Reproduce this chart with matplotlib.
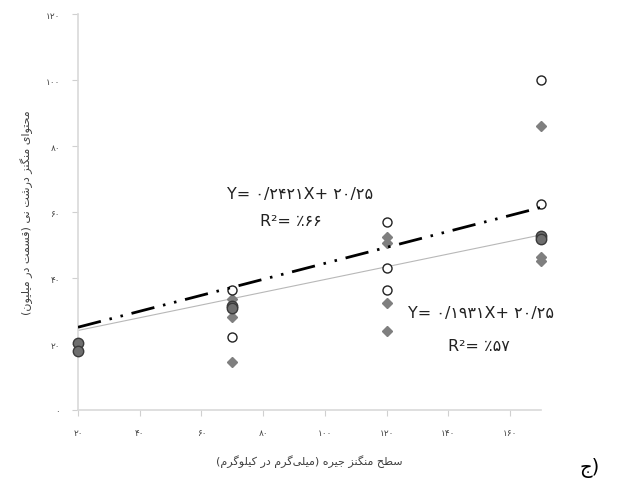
import matplotlib
matplotlib.use('Agg')
import matplotlib.pyplot as plt
import numpy as np

# Persian shaping (matplotlib draws text left-to-right without joining)
FORMS = {
    'ا': ('\uFE8D', '\uFE8E', None, None),
    'ب': ('\uFE8F', '\uFE90', '\uFE91', '\uFE92'),
    'پ': ('\uFB56', '\uFB57', '\uFB58', '\uFB59'),
    'ت': ('\uFE95', '\uFE96', '\uFE97', '\uFE98'),
    'ج': ('\uFE9D', '\uFE9E', '\uFE9F', '\uFEA0'),
    'ح': ('\uFEA1', '\uFEA2', '\uFEA3', '\uFEA4'),
    'د': ('\uFEA9', '\uFEAA', None, None),
    'ر': ('\uFEAD', '\uFEAE', None, None),
    'ز': ('\uFEAF', '\uFEB0', None, None),
    'س': ('\uFEB1', '\uFEB2', '\uFEB3', '\uFEB4'),
    'ش': ('\uFEB5', '\uFEB6', '\uFEB7', '\uFEB8'),
    'ط': ('\uFEC1', '\uFEC2', '\uFEC3', '\uFEC4'),
    'ق': ('\uFED5', '\uFED6', '\uFED7', '\uFED8'),
    'ک': ('\uFB8E', '\uFB8F', '\uFB90', '\uFB91'),
    'گ': ('\uFB92', '\uFB93', '\uFB94', '\uFB95'),
    'ل': ('\uFEDD', '\uFEDE', '\uFEDF', '\uFEE0'),
    'م': ('\uFEE1', '\uFEE2', '\uFEE3', '\uFEE4'),
    'ن': ('\uFEE5', '\uFEE6', '\uFEE7', '\uFEE8'),
    'و': ('\uFEED', '\uFEEE', None, None),
    'ه': ('\uFEE9', '\uFEEA', '\uFEEB', '\uFEEC'),
    'ی': ('\uFBFC', '\uFBFD', '\uFBFE', '\uFBFF'),
}

def dual(c):
    return c in FORMS and FORMS[c][2] is not None

def fa(s):
    out = []
    for i, c in enumerate(s):
        if c not in FORMS:
            if c != '\u200c':
                out.append(c)
            continue
        prev = s[i-1] if i > 0 else ''
        nxt = s[i+1] if i+1 < len(s) else ''
        jp = dual(prev)
        jn = dual(c) and nxt in FORMS
        iso, fin, ini, med = FORMS[c]
        if jp and jn:
            out.append(med)
        elif jp:
            out.append(fin)
        elif jn:
            out.append(ini)
        else:
            out.append(iso)
    vis = ''.join(reversed(out))
    return vis.translate(str.maketrans('()', ')('))

def fa_num(n):
    return str(n).translate(str.maketrans('0123456789', '۰۱۲۳۴۵۶۷۸۹'))

# data
open_x = [70, 70, 70, 120, 120, 120, 170, 170, 170]
open_y = [36.4, 30.8, 22.0, 56.9, 43.2, 36.4, 100.0, 62.4, 52.0]
diam_x = [70, 70, 70, 120, 120, 120, 120, 170, 170, 170]
diam_y = [33.6, 28.2, 14.6, 52.3, 50.5, 32.3, 23.8, 86.0, 46.3, 45.2]
dark_x = [20, 20, 70, 70, 170, 170]
dark_y = [20.3, 17.8, 31.4, 30.8, 52.8, 51.8]

fit_slope = [0.2421, 0.1931]
fit_icpt = [20.25, 20.25]
eq_text = ['Y= ۰/۲۴۲۱X+ ۲۰/۲۵', 'Y= ۰/۱۹۳۱X+ ۲۰/۲۵']
r2_text = ['R²= ٪۶۶', 'R²= ٪۵۷']

xticks = [20, 40, 60, 80, 100, 120, 140, 160]
yticks = [0, 20, 40, 60, 80, 100, 120]

plt.rcParams['font.family'] = ['DejaVu Sans']

fig = plt.figure(figsize=(6.29, 4.89), dpi=100)
ax = fig.add_axes([0.124, 0.1595, 0.736, 0.8095])

xs = np.array([20, 170])
ax.plot(xs, fit_slope[1]*xs + fit_icpt[1], color='#b8b8b8', lw=0.8, zorder=2)
ax.plot(xs, fit_slope[0]*xs + fit_icpt[0], color='black', lw=2.0,
        ls=(0, (8.5, 3.2, 0.9, 3.2, 0.9, 3.2)), zorder=6)

ax.plot(diam_x, diam_y, 'D', ms=5, color='#7f7f7f', mec='#7f7f7f', ls='none', zorder=3, clip_on=False)
ax.plot(open_x, open_y, 'o', ms=6.5, mfc='white', mec='#222222', mew=1.0, ls='none', zorder=4, clip_on=False)
ax.plot(dark_x, dark_y, 'o', ms=7.5, color='#6e6e6e', mec='#3a3a3a', mew=1.0, ls='none', zorder=5, clip_on=False)

ax.set_xlim(20, 170)
ax.set_ylim(0, 120)
ax.set_xticks(xticks)
ax.set_xticklabels([fa_num(v) for v in xticks])
ax.set_yticks(yticks)
ax.set_yticklabels([fa_num(v) for v in yticks])
ax.tick_params(colors='#d0d0d0', labelcolor='#444444', labelsize=6.5, length=4, width=0.8, pad=9)

for s in ['top', 'right']:
    ax.spines[s].set_visible(False)
for s in ['left', 'bottom']:
    ax.spines[s].set_color('#d9d9d9')
    ax.spines[s].set_linewidth(1.2)

ax.set_ylabel(fa('محتوای منگنز درشت نی (قسمت در میلیون)'), fontsize=8, color='#404040')
ax.yaxis.set_label_coords(-0.098, 0.5)
ax.set_xlabel(fa('سطح منگنز جیره (میلی\u200cگرم در کیلوگرم)'), fontsize=8, color='#404040')
ax.xaxis.set_label_coords(0.5, -0.111)

ax.text(91.9, 65.5, eq_text[0], ha='center', va='center', fontsize=11.5, color='#222222')
ax.text(89.0, 57.3, r2_text[0], ha='center', va='center', fontsize=11.5, color='#222222')
ax.text(150.5, 29.7, eq_text[1], ha='center', va='center', fontsize=11.5, color='#222222')
ax.text(150.0, 19.7, r2_text[1], ha='center', va='center', fontsize=11.5, color='#222222')

fig.text(0.938, 0.043, fa('ج') + ')', ha='center', va='center', fontsize=14, color='black')

fig.savefig('out.png', dpi=100)
